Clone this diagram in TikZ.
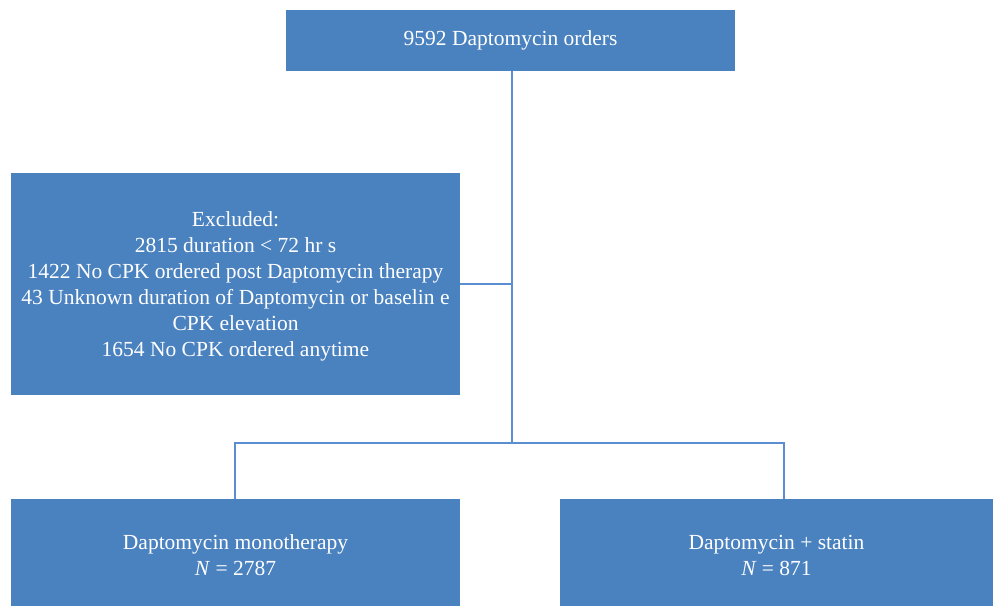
\documentclass[tikz,border=0pt]{standalone}
\usepackage{fontspec}
\setmainfont{Liberation Serif}
\definecolor{boxblue}{HTML}{4A81BF}
\definecolor{lineblue}{HTML}{5B8ED0}
\begin{document}
\begin{tikzpicture}[x=1pt,y=-1pt,
  bx/.style={fill=boxblue,draw=none,text=white,align=center,inner sep=0pt,
    font=\fontsize{21.5}{26}\selectfont},
  conn/.style={draw=lineblue,line width=1.2pt}]
\useasboundingbox (0,0) rectangle (993,606);
\path[bx] (286,10) rectangle (735,71) node[pos=.5] (top) {9592 Daptomycin orders};
\path[bx] (11,173) rectangle (460,395) node[pos=.5,yshift=-2pt] (exc) {Excluded:\\2815 duration < 72 hr s\\1422 No CPK ordered post Daptomycin therapy\\43 Unknown duration of Daptomycin or baselin e\\CPK elevation\\1654 No CPK ordered anytime};
\path[bx] (11,499) rectangle (460,606) node[pos=.5,yshift=-3pt] (mono) {Daptomycin monotherapy\\\textit{N} = 2787};
\path[bx] (560,499) rectangle (993,606) node[pos=.5,yshift=-3pt] (stat) {Daptomycin + statin\\\textit{N} = 871};
\coordinate (topb) at (512,71);
\coordinate (excj) at (512,284);
\coordinate (excr) at (460,284);
\coordinate (split) at (512,443);
\coordinate (lt) at (235,443);
\coordinate (rt) at (784,443);
\coordinate (lb) at (235,499);
\coordinate (rb) at (784,499);
\draw[conn] (topb) -- (split);
\draw[conn] (excr) -- (excj);
\draw[conn] (lb) -- (lt) -- (rt) -- (rb);
\end{tikzpicture}
\end{document}
